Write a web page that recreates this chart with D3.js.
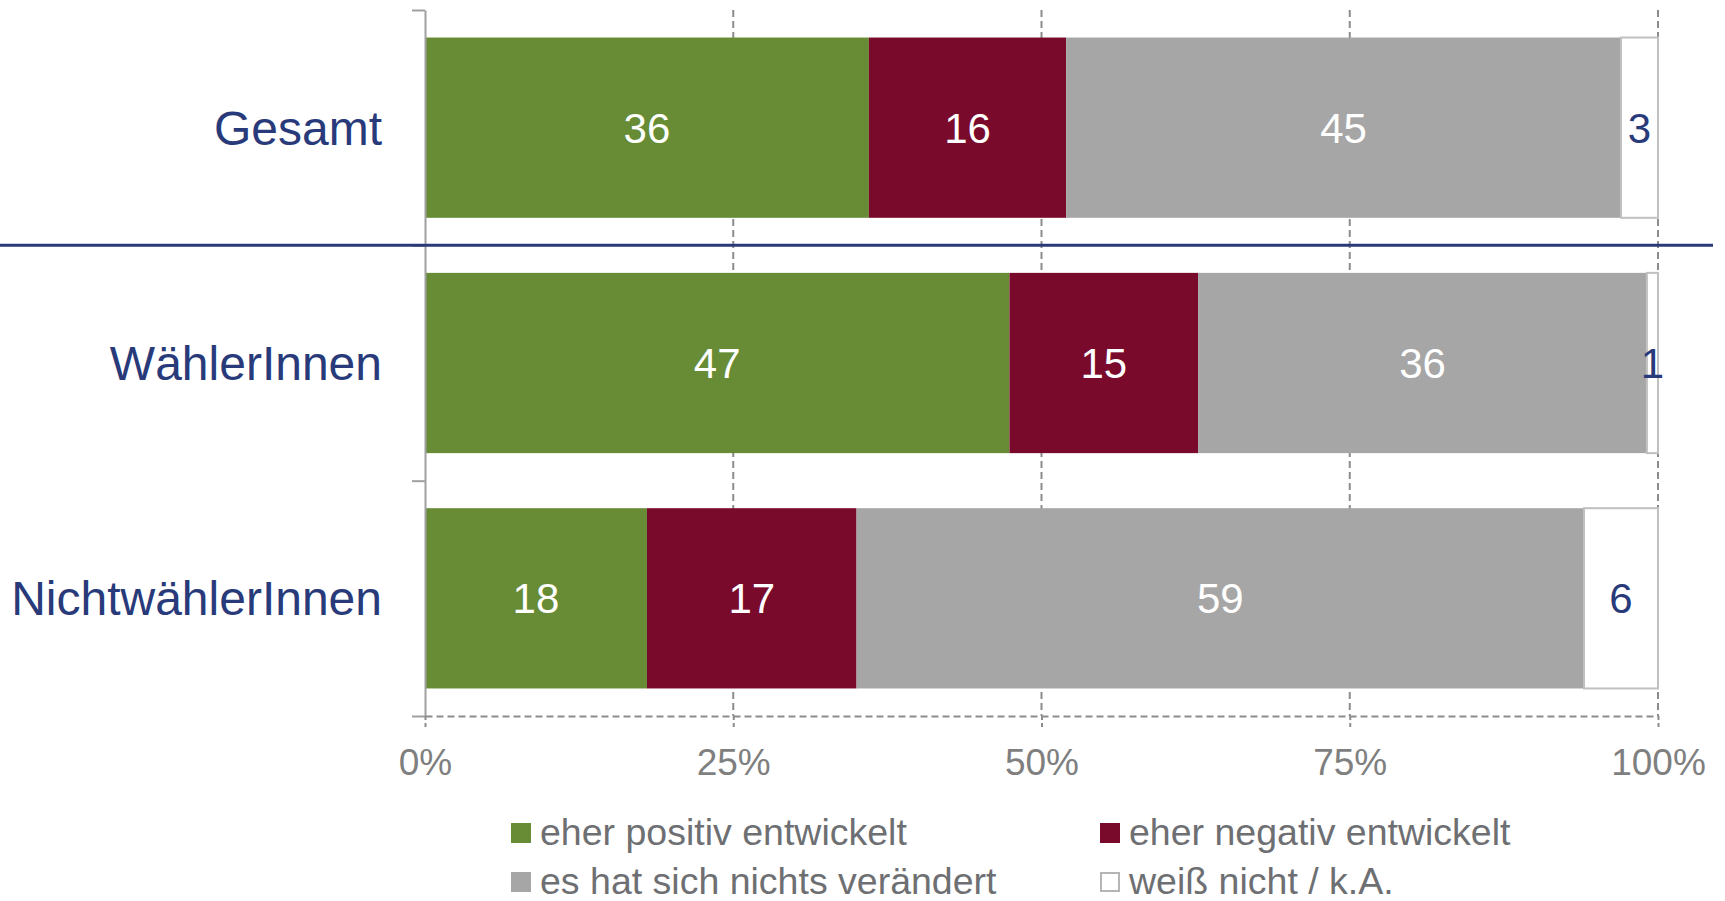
<!DOCTYPE html>
<html>
<head>
<meta charset="utf-8">
<script src="https://cdn.jsdelivr.net/npm/d3@7"></script>
<style>
  body { margin: 0; background: #fff; }
  svg { display: block; font-family: "Liberation Sans", Arial, sans-serif; }
</style>
</head>
<body>
<div id="chart"></div>
<script>
// data
var categories = ["Gesamt", "WählerInnen", "NichtwählerInnen"];
var seriesNames = ["eher positiv entwickelt", "eher negativ entwickelt", "es hat sich nichts verändert", "weiß nicht / k.A."];
var positiv  = [36, 47.4, 18];
var negativ  = [16, 15.3, 17];
var nichts   = [45, 36.4, 59];
var weissNicht = [3, 0.9, 6];
var xTicks = [0, 25, 50, 75, 100];

var colors = ["#678c35", "#7a0a2b", "#a6a6a6", "#ffffff"];
var labelColors = ["#ffffff", "#ffffff", "#ffffff", "#283a7a"];
var navy = "#283a7a";

var width = 1725, height = 901;

var svg = d3.select("#chart").append("svg")
  .attr("width", width).attr("height", height);

var x = d3.scaleLinear().domain([0, 100]).range([425, 1658]);
var y = d3.scaleBand().domain(categories).range([10, 716])
  .paddingInner(0.234).paddingOuter(0.117);
// boundaries between the categories, for the y axis ticks
var yB = d3.scaleLinear().domain([0, categories.length]).range([10, 716]);

// build stacked rows
var rows = categories.map(function(c, i) {
  return { cat: c, vals: [positiv[i], negativ[i], nichts[i], weissNicht[i]] };
});
var stack = d3.stack().keys([0, 1, 2, 3]).value(function(d, k) { return d.vals[k]; });
var layers = stack(rows);

// gridlines (dashed, behind bars)
svg.append("g").selectAll("line")
  .data(xTicks.filter(function(d) { return d > 0; }))
  .enter().append("line")
  .attr("x1", function(d) { return x(d); })
  .attr("x2", function(d) { return x(d); })
  .attr("y1", 10).attr("y2", 716)
  .attr("stroke", "#8c8c8c")
  .attr("stroke-width", 2)
  .attr("stroke-dasharray", "7,4");

// bars
var layerG = svg.append("g").selectAll("g")
  .data(layers).enter().append("g")
  .attr("fill", function(d, i) { return colors[i]; });

layerG.selectAll("rect")
  .data(function(d) { return d; })
  .enter().append("rect")
  .attr("x", function(d) { return x(d[0]); })
  .attr("y", function(d) { return y(d.data.cat); })
  .attr("width", function(d) { return x(d[1]) - x(d[0]); })
  .attr("height", y.bandwidth())
  .attr("stroke", function(d) { return this.parentNode.__data__.key === 3 ? "#c0c0c0" : "none"; })
  .attr("stroke-width", 2);

// value labels
layers.forEach(function(layer, k) {
  svg.append("g").selectAll("text")
    .data(layer).enter().append("text")
    .attr("x", function(d) { return (x(d[0]) + x(d[1])) / 2; })
    .attr("y", function(d) { return y(d.data.cat) + y.bandwidth() / 2 + 15; })
    .attr("text-anchor", "middle")
    .attr("font-size", 42)
    .attr("fill", labelColors[k])
    .text(function(d) { return Math.round(d[1] - d[0]); });
});

// y axis (line with ticks at band boundaries)
var yAxis = svg.append("g")
  .attr("transform", "translate(425,0)")
  .call(d3.axisLeft(yB).ticks(categories.length).tickSize(13).tickSizeOuter(0).tickFormat(""));
yAxis.select(".domain").attr("stroke", "#a0a0a0").attr("stroke-width", 2);
yAxis.selectAll(".tick line").attr("stroke", "#a0a0a0").attr("stroke-width", 2);

// x axis
var xAxis = svg.append("g")
  .attr("transform", "translate(0,716)")
  .call(d3.axisBottom(x).tickValues(xTicks).tickFormat(function(d) { return d + "%"; })
    .tickSize(11).tickSizeOuter(0).tickPadding(22));
xAxis.select(".domain").attr("stroke", "#8c8c8c").attr("stroke-width", 2).attr("stroke-dasharray", "7,4");
xAxis.selectAll(".tick line").attr("stroke", "#8c8c8c").attr("stroke-width", 2).attr("stroke-dasharray", "4,3");
xAxis.selectAll(".tick text")
  .attr("font-size", 37)
  .attr("font-family", "Liberation Sans, Arial, sans-serif")
  .attr("fill", "#7f7f7f");

// category labels
svg.append("g").selectAll("text")
  .data(categories).enter().append("text")
  .attr("x", 382)
  .attr("y", function(d) { return y(d) + y.bandwidth() / 2 + 17; })
  .attr("text-anchor", "end")
  .attr("font-size", 48)
  .attr("fill", navy)
  .text(function(d) { return d; });

// separator line under "Gesamt"
svg.append("line")
  .attr("x1", 0).attr("x2", 1713)
  .attr("y1", yB(1)).attr("y2", yB(1))
  .attr("stroke", navy)
  .attr("stroke-width", 3);

// legend
var legendPos = [[511, 823], [1100, 823], [511, 872], [1100, 872]];
var legend = svg.append("g").selectAll("g")
  .data(seriesNames).enter().append("g")
  .attr("transform", function(d, i) { return "translate(" + legendPos[i][0] + "," + legendPos[i][1] + ")"; });

legend.append("rect")
  .attr("x", function(d, i) { return i === 3 ? 1 : 0; })
  .attr("y", function(d, i) { return i === 3 ? 1 : 0; })
  .attr("width", function(d, i) { return i === 3 ? 18 : 20; })
  .attr("height", function(d, i) { return i === 3 ? 18 : 20; })
  .attr("fill", function(d, i) { return colors[i]; })
  .attr("stroke", function(d, i) { return i === 3 ? "#b5b5b5" : "none"; })
  .attr("stroke-width", 2);

legend.append("text")
  .attr("x", 29)
  .attr("y", 22)
  .attr("font-size", 37.5)
  .attr("fill", "#6e6f72")
  .text(function(d) { return d; });
</script>
</body>
</html>
